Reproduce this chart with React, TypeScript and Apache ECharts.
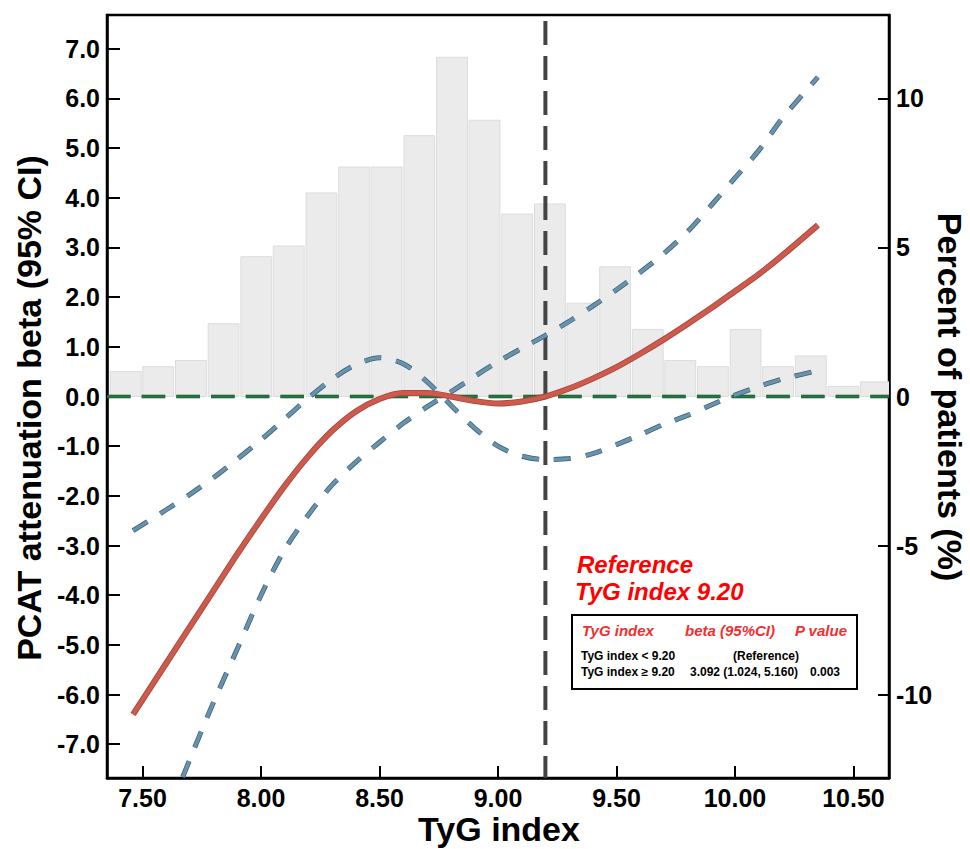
import React, { useEffect, useRef } from 'react';
import * as echarts from 'echarts';

const FONT = '"Liberation Sans", Arial, Helvetica, sans-serif';

// axes
const X_MIN = 7.35;
const X_MAX = 10.65;
const Y_MIN = -7.68;
const Y_MAX = 7.68;
const P_MIN = -12.8;
const P_MAX = 12.8;
const xTicks = [7.5, 8.0, 8.5, 9.0, 9.5, 10.0, 10.5];
const leftTicks = [-7, -6, -5, -4, -3, -2, -1, 0, 1, 2, 3, 4, 5, 6, 7];
const rightTicks = [-10, -5, 0, 5, 10];
const REF_X = 9.2;

// histogram (percent of patients)
const HIST_BIN_WIDTH = 0.1377;
const histBinCenters = [
  7.429, 7.566, 7.704, 7.842, 7.98, 8.117, 8.255, 8.393, 8.53, 8.668, 8.806, 8.943,
  9.081, 9.219, 9.356, 9.494, 9.632, 9.769, 9.907, 10.045, 10.182, 10.32, 10.458, 10.595,
];
const histPercent = [
  0.84, 1.0, 1.21, 2.44, 4.69, 5.05, 6.83, 7.7, 7.7, 8.75, 11.38, 9.27,
  6.12, 6.46, 3.13, 4.35, 2.25, 1.21, 1.0, 2.25, 1.0, 1.36, 0.34, 0.49,
];

// spline estimate
const betaX = [7.46, 7.6, 7.75, 7.9, 8.0, 8.1, 8.2, 8.3, 8.4, 8.5, 8.6, 8.7, 8.8, 8.9, 9.0, 9.1, 9.2, 9.3, 9.4, 9.5, 9.6, 9.7, 9.8, 9.9, 10.0, 10.1, 10.2, 10.35];
const betaY = [-6.4, -5.37, -4.27, -3.17, -2.47, -1.8, -1.2, -0.69, -0.3, -0.05, 0.07, 0.07, 0.0, -0.09, -0.14, -0.1, 0.0, 0.16, 0.36, 0.59, 0.86, 1.15, 1.46, 1.78, 2.12, 2.46, 2.84, 3.45];

// confidence bound A (starts at -2.7)
const ciAX = [7.46, 7.6, 7.7, 7.8, 7.9, 8.0, 8.1, 8.2, 8.3, 8.4, 8.5, 8.6, 8.7, 8.8, 8.9, 9.0, 9.1, 9.2, 9.3, 9.4, 9.5, 9.6, 9.7, 9.8, 9.9, 10.0, 10.1, 10.2, 10.35];
const ciAY = [-2.7, -2.28, -1.97, -1.63, -1.26, -0.87, -0.45, -0.03, 0.35, 0.64, 0.78, 0.66, 0.3, -0.17, -0.63, -1.0, -1.2, -1.27, -1.25, -1.15, -0.97, -0.77, -0.56, -0.38, -0.17, 0.03, 0.2, 0.35, 0.52];

// confidence bound B (starts below the axis)
const ciBX = [7.62, 7.7, 7.8, 7.9, 8.0, 8.1, 8.2, 8.3, 8.4, 8.5, 8.6, 8.7, 8.8, 8.9, 9.0, 9.1, 9.2, 9.3, 9.4, 9.5, 9.6, 9.7, 9.8, 9.9, 10.0, 10.1, 10.2, 10.35];
const ciBY = [-8.26, -7.3, -6.15, -5.08, -4.0, -3.08, -2.38, -1.78, -1.32, -0.92, -0.54, -0.21, 0.09, 0.4, 0.7, 0.97, 1.23, 1.51, 1.82, 2.15, 2.5, 2.88, 3.32, 3.85, 4.4, 4.95, 5.6, 6.43];

// annotation texts
const tableHeader = ['TyG index', 'beta (95%CI)', 'P value'];
const tableRow1 = ['TyG index < 9.20', '(Reference)', ''];
const tableRow2 = ['TyG index \u2265 9.20', '3.092 (1.024, 5.160)', '0.003'];

const pairs = (xs: number[], ys: number[]) => xs.map((x, i) => [x, ys[i]]);

function lineSeries(data: number[][], color: string, width: number, dash: any, z: number, smooth: number | boolean = 0.3, extra: any = {}) {
  return {
    type: 'line',
    xAxisIndex: 0,
    yAxisIndex: 0,
    data,
    symbol: 'none',
    showSymbol: false,
    smooth,
    silent: true,
    z,
    lineStyle: { color, width, type: dash, cap: 'butt', ...extra },
  };
}

function buildOption() {
  const axisLabelBase = { color: '#000', fontSize: 25, fontWeight: 'bold', fontFamily: FONT };
  return {
    animation: false,
    backgroundColor: '#fff',
    grid: {
      left: 107,
      top: 15,
      width: 782,
      height: 763,
      show: true,
      borderColor: '#000',
      borderWidth: 2.5,
      backgroundColor: 'transparent',
    },
    xAxis: {
      type: 'value',
      min: X_MIN,
      max: X_MAX,
      axisLine: { show: true, onZero: false, lineStyle: { color: '#000', width: 2.5 } },
      axisTick: { show: true, inside: true, length: 12, lineStyle: { color: '#000', width: 2 }, customValues: xTicks },
      axisLabel: { ...axisLabelBase, customValues: xTicks, margin: 7, formatter: (v: number) => v.toFixed(2) },
      splitLine: { show: false },
    },
    yAxis: [
      {
        type: 'value',
        position: 'left',
        min: Y_MIN,
        max: Y_MAX,
        axisLine: { show: true, onZero: false, lineStyle: { color: '#000', width: 2.5 } },
        axisTick: { show: true, inside: true, length: 13, lineStyle: { color: '#000', width: 2 }, customValues: leftTicks },
        axisLabel: { ...axisLabelBase, customValues: leftTicks, margin: 7, formatter: (v: number) => v.toFixed(1) },
        splitLine: { show: false },
      },
      {
        type: 'value',
        position: 'right',
        min: P_MIN,
        max: P_MAX,
        axisLine: { show: true, onZero: false, lineStyle: { color: '#000', width: 2.5 } },
        axisTick: { show: true, inside: true, length: 11, lineStyle: { color: '#000', width: 2 }, customValues: rightTicks },
        axisLabel: { ...axisLabelBase, customValues: rightTicks, margin: 7, formatter: (v: number) => String(v) },
        splitLine: { show: false },
      },
    ],
    series: [
      {
        type: 'custom',
        xAxisIndex: 0,
        yAxisIndex: 1,
        clip: true,
        silent: true,
        z: 1,
        data: pairs(histBinCenters, histPercent),
        renderItem: (_params: any, api: any) => {
          const c = api.value(0);
          const h = api.value(1);
          const p0 = api.coord([c - HIST_BIN_WIDTH / 2, h]);
          const p1 = api.coord([c + HIST_BIN_WIDTH / 2, 0]);
          return {
            type: 'rect',
            shape: { x: p0[0] + 0.9, y: p0[1], width: p1[0] - p0[0] - 1.8, height: p1[1] - p0[1] },
            style: { fill: '#ebebeb', stroke: '#dcdcdc', lineWidth: 1 },
          };
        },
      },
      lineSeries([[X_MIN, 0], [X_MAX, 0]], '#0f3d1e', 3.6, [23.5, 11.2], 2, false),
      lineSeries([[X_MIN, 0], [X_MAX, 0]], '#237a42', 2.4, [23.5, 11.2], 3, false),
      lineSeries([[REF_X, Y_MAX], [REF_X, Y_MIN]], '#444', 4, [24, 11], 4, false, { dashOffset: 29 }),
      lineSeries(pairs(ciAX, ciAY), '#3e6277', 5, [17, 15], 5),
      lineSeries(pairs(ciAX, ciAY), '#6993ad', 3.4, [17, 15], 6),
      lineSeries(pairs(ciBX, ciBY), '#3e6277', 5, [17, 15], 5),
      lineSeries(pairs(ciBX, ciBY), '#6993ad', 3.4, [17, 15], 6),
      lineSeries(pairs(betaX, betaY), '#a8443a', 6, 'solid', 7),
      lineSeries(pairs(betaX, betaY), '#cc5a4d', 4.4, 'solid', 8),
    ],
    graphic: [
      {
        type: 'text', x: 29, y: 408, rotation: Math.PI / 2, silent: true,
        style: { text: 'PCAT attenuation beta (95% CI)', fill: '#000', fontSize: 34, fontWeight: 'bold', fontFamily: FONT, textAlign: 'center', textVerticalAlign: 'middle' },
      },
      {
        type: 'text', x: 950, y: 397, rotation: -Math.PI / 2, silent: true,
        style: { text: 'Percent of patients (%)', fill: '#000', fontSize: 34, fontWeight: 'bold', fontFamily: FONT, textAlign: 'center', textVerticalAlign: 'middle' },
      },
      {
        type: 'text', x: 499, y: 829, silent: true,
        style: { text: 'TyG index', fill: '#000', fontSize: 34, fontWeight: 'bold', fontFamily: FONT, textAlign: 'center', textVerticalAlign: 'middle' },
      },
      {
        type: 'text', x: 577, y: 564, silent: true,
        style: { text: 'Reference', fill: '#ff0000', fontSize: 24, fontWeight: 'bold', fontStyle: 'italic', fontFamily: FONT, textAlign: 'left', textVerticalAlign: 'middle' },
      },
      {
        type: 'text', x: 575, y: 591, silent: true,
        style: { text: 'TyG index 9.20', fill: '#ff0000', fontSize: 24, fontWeight: 'bold', fontStyle: 'italic', fontFamily: FONT, textAlign: 'left', textVerticalAlign: 'middle' },
      },
      {
        type: 'rect', silent: true,
        shape: { x: 572, y: 615, width: 285, height: 74 },
        style: { fill: '#fff', stroke: '#000', lineWidth: 2 },
        z: 100,
      },
      ...[
        [tableHeader[0], 582, 630], [tableHeader[1], 685, 630], [tableHeader[2], 795, 630],
      ].map(([t, x, y]) => ({
        type: 'text', x, y, silent: true, z: 101,
        style: { text: t, fill: '#f03030', fontSize: 15, fontWeight: 'bold', fontStyle: 'italic', fontFamily: FONT, textAlign: 'left', textVerticalAlign: 'middle' },
      })),
      ...[
        [tableRow1[0], 581, 656], [tableRow1[1], 733, 656],
        [tableRow2[0], 581, 672], [tableRow2[1], 690, 672], [tableRow2[2], 810, 672],
      ].map(([t, x, y]) => ({
        type: 'text', x, y, silent: true, z: 101,
        style: { text: t, fill: '#000', fontSize: 12, fontWeight: 'bold', fontFamily: FONT, textAlign: 'left', textVerticalAlign: 'middle' },
      })),
    ],
  };
}

export default function App() {
  const ref = useRef<HTMLDivElement>(null);
  useEffect(() => {
    if (!ref.current) return;
    const chart = echarts.init(ref.current, null, { renderer: 'svg' });
    chart.setOption(buildOption() as any);
    return () => {
      chart.dispose();
    };
  }, []);
  return (
    <div
      ref={ref}
      style={{ position: 'fixed', left: 0, top: 0, width: 970, height: 849, background: '#fff' }}
    />
  );
}
